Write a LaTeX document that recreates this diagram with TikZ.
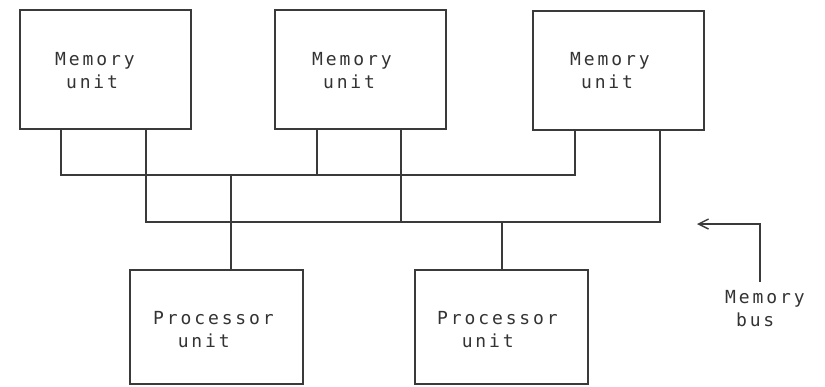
\documentclass[tikz,border=0pt]{standalone}
\usepackage{fontspec}
\setmonofont[LetterSpace=16]{DejaVu Sans Mono}
\usetikzlibrary{arrows.meta}
\definecolor{ink}{HTML}{3A3A3A}
\definecolor{txt}{HTML}{333333}
\tikzset{
  unitbox/.style={draw=ink, line width=2pt, rectangle, inner sep=0pt},
  memunit/.style={unitbox, minimum width=171pt, minimum height=119pt},
  procunit/.style={unitbox, minimum width=173pt, minimum height=114pt},
  lbl/.style={anchor=north west, inner sep=0pt, align=left, text=txt,
    font=\ttfamily\fontsize{18}{23}\selectfont},
  wire/.style={draw=ink, line width=2pt, line join=miter},
}
\begin{document}
\begin{tikzpicture}[x=1pt,y=-1pt]
\useasboundingbox (0,0) rectangle (825,386);
% memory units
\node[memunit] (m1) at (105,69) {};
\node[memunit] (m2) at (360.5,69.5) {};
\node[memunit] (m3) at (618.5,70) {};
% processor units
\node[procunit] (p1) at (216.5,327) {};
\node[procunit] (p2) at (501.5,327) {};
% labels
\node[lbl] (m1t) at (55,52) {Memory\\\phantom{M}unit};
\node[lbl] (m2t) at (312,52) {Memory\\\phantom{M}unit};
\node[lbl] (m3t) at (570,52) {Memory\\\phantom{M}unit};
\node[lbl] (p1t) at (153,311) {Processor\\\phantom{Pr}unit};
\node[lbl] (p2t) at (437,311) {Processor\\\phantom{Pr}unit};
\node[lbl] (mbt) at (725,290) {Memory\\\phantom{M}bus};
% bus levels
\coordinate (ub) at (0,175);
\coordinate (lb) at (0,222);
% legs
\coordinate (m1a) at ([xshift=42pt]m1.south west);
\coordinate (m1b) at ([xshift=127pt]m1.south west);
\coordinate (m2a) at ([xshift=43pt]m2.south west);
\coordinate (m2b) at ([xshift=127pt]m2.south west);
\coordinate (m3a) at ([xshift=43pt]m3.south west);
\coordinate (m3b) at ([xshift=128pt]m3.south west);
\coordinate (p1a) at ([xshift=102pt]p1.north west);
\coordinate (p2a) at (p2.north);
% upper bus
\draw[wire] (m1a) |- (m3a |- ub) -- (m3a);
\draw[wire] (m2a) -- (m2a |- ub);
\draw[wire] (p1a) -- (p1a |- ub);
% lower bus
\draw[wire] (m1b) |- (m3b |- lb) -- (m3b);
\draw[wire] (m2b) -- (m2b |- lb);
\draw[wire] (p2a) -- (p2a |- lb);
% memory bus pointer
\coordinate (bt) at (760,282);
\coordinate (ae) at (697,224);
\draw[wire, -{Straight Barb[length=10pt,width=10pt,line width=1.4pt]}] (bt) |- (ae);
\end{tikzpicture}
\end{document}
